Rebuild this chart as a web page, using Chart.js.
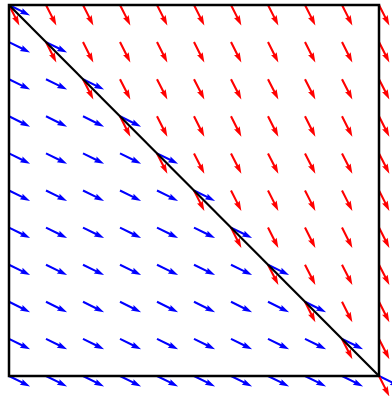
<!DOCTYPE html>
<html>
<head>
<meta charset="utf-8">
<script src="https://cdn.jsdelivr.net/npm/chart.js@4"></script>
<style>
  html, body { margin: 0; padding: 0; background: #fff; }
  #wrap { width: 392px; height: 396px; }
</style>
</head>
<body>
<div id="wrap"><canvas id="chart"></canvas></div>
<script>
// grid of arrow tails
const gridX = [0, 1, 2, 3, 4, 5, 6, 7, 8, 9, 10];
const gridY = [0, 1, 2, 3, 4, 5, 6, 7, 8, 9, 10];
// dividing line (top-left to bottom-right)
const lineX = [0, 10];
const lineY = [10, 0];
// vector below/on the line (blue) and above/on the line (red), data units
const blueUV = [0.57, -0.28];
const redUV = [0.28, -0.55];

// arrows on each side of the line; points on it get both
const blueArrows = [], redArrows = [];
for (const y of gridY) {
  for (const x of gridX) {
    const side = x + y - (lineX[0] + lineY[0]);
    if (side <= 0) blueArrows.push({ x, y, u: blueUV[0], v: blueUV[1] });
    if (side >= 0) redArrows.push({ x, y, u: redUV[0], v: redUV[1] });
  }
}

function drawArrow(ctx, x0, y0, x1, y1, color) {
  const w = 2.1, hw = 6.3, hl = 10, hal = 9;
  const dx = x1 - x0, dy = y1 - y0;
  const L = Math.hypot(dx, dy);
  ctx.save();
  ctx.translate(x0, y0);
  ctx.rotate(Math.atan2(dy, dx));
  ctx.beginPath();
  ctx.moveTo(0, -w / 2);
  ctx.lineTo(L - hal, -w / 2);
  ctx.lineTo(L - hl, -hw / 2);
  ctx.lineTo(L, 0);
  ctx.lineTo(L - hl, hw / 2);
  ctx.lineTo(L - hal, w / 2);
  ctx.lineTo(0, w / 2);
  ctx.closePath();
  ctx.fillStyle = color;
  ctx.fill();
  ctx.restore();
}

const quiver = {
  id: 'quiver',
  beforeDatasetsDraw(chart) {
    const { ctx, scales: { x, y } } = chart;
    const sets = [[blueArrows, '#0000ff'], [redArrows, '#ff0000']];
    for (const [arr, col] of sets) {
      for (const a of arr) {
        drawArrow(ctx,
          x.getPixelForValue(a.x), y.getPixelForValue(a.y),
          x.getPixelForValue(a.x + a.u), y.getPixelForValue(a.y + a.v), col);
      }
    }
  },
  afterDatasetsDraw(chart) {
    const { ctx, chartArea: ca } = chart;
    ctx.save();
    ctx.strokeStyle = '#000';
    ctx.lineWidth = 2.5;
    ctx.strokeRect(ca.left, ca.top, ca.right - ca.left, ca.bottom - ca.top);
    ctx.restore();
  }
};

new Chart(document.getElementById('chart'), {
  type: 'scatter',
  data: {
    datasets: [{
      data: lineX.map((v, i) => ({ x: v, y: lineY[i] })),
      showLine: true,
      borderColor: '#000',
      borderWidth: 2.2,
      pointRadius: 0,
      clip: false
    }]
  },
  options: {
    responsive: true,
    maintainAspectRatio: false,
    animation: false,
    events: [],
    layout: { padding: { left: 9, top: 5, right: 13, bottom: 20 } },
    plugins: { legend: { display: false }, tooltip: { enabled: false } },
    scales: {
      x: { type: 'linear', min: 0, max: 10, display: false },
      y: { type: 'linear', min: 0, max: 10, display: false }
    }
  },
  plugins: [quiver]
});
</script>
</body>
</html>
